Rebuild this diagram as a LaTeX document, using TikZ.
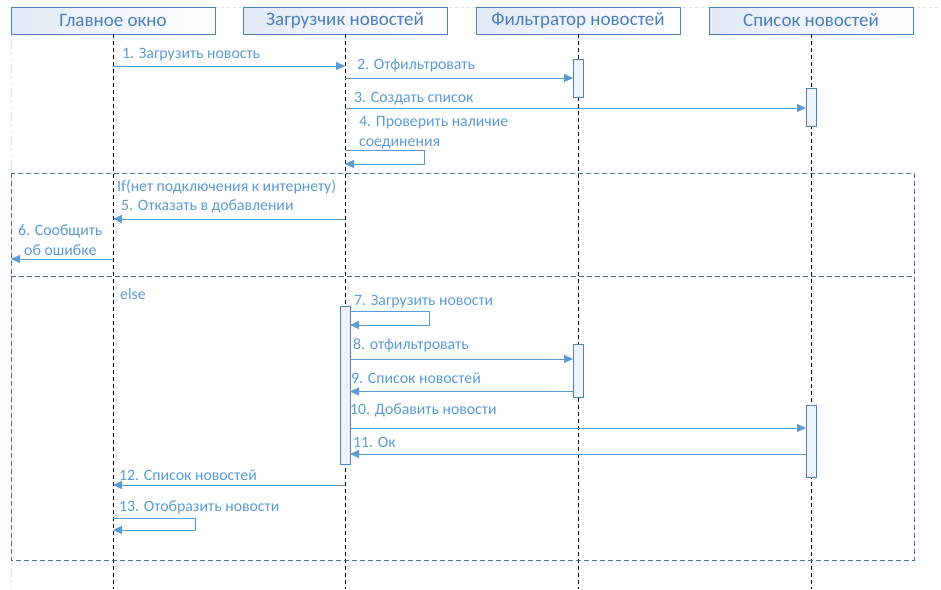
\documentclass[tikz,border=0pt]{standalone}
\usepackage{fontspec}
\setmainfont{Carlito}
\usetikzlibrary{arrows.meta}

\definecolor{msgblue}{RGB}{91,155,213}
\definecolor{headtext}{RGB}{74,126,187}
\definecolor{boxline}{RGB}{79,129,189}
\definecolor{boxfill}{RGB}{226,234,246}
\definecolor{framecol}{RGB}{65,113,156}

\tikzset{
    head/.style={draw=boxline, left color=boxfill, right color=white, minimum width=204pt,
        minimum height=27pt, inner sep=0pt, text=headtext, font=\fontsize{19}{21}\selectfont},
    life/.style={black, line width=0.8pt, dash pattern=on 4pt off 3pt},
    act/.style={draw=boxline, line width=0.8pt, fill=boxfill!60, minimum width=10pt, inner sep=0pt},
    msg/.style={draw=msgblue, line width=1pt},
    lbl/.style={anchor=west, text=msgblue, inner sep=0pt, yshift=-1.5pt,
        font=\fontsize{15.8}{20}\selectfont},
    fragment/.style={draw=framecol, line width=0.8pt, dash pattern=on 5pt off 3pt}
}

\begin{document}
\begin{tikzpicture}[x=1pt, y=-1pt, >={Triangle[length=9pt,width=8pt]}]
    \useasboundingbox (0,0) rectangle (941,589);
    \draw[black!12, dashed] (11,589) -- (11,7) -- (941,7);

    % objects and lifelines
    \foreach \n/\x/\t in {main/113/Главное окно, loader/345/Загрузчик новостей,
                          filter/578/Фильтратор новостей, list/811/Список новостей} {
        \node[head] (\n) at (\x,20.5) {\t};
        \coordinate (\n end) at (\x,589);
        \draw[life] (\n.south) -- (\n end);
    }

    % activations
    \node[act, minimum height=38pt] (filterA) at (578,78) {};
    \node[act, minimum height=38pt] (listA) at (811,107) {};
    \node[act, minimum height=158pt] (loaderB) at (345,385) {};
    \node[act, minimum height=53pt] (filterB) at (578,370.5) {};
    \node[act, minimum height=72pt] (listB) at (811,441) {};

    % alt fragment
    \draw[fragment] (11,173) rectangle (914,560);
    \draw[fragment] (11,276.5) -- (914,276.5);

    % straight messages
    \foreach \i/\a/\b/\y in {1/113/345/66, 2/345/573/78, 3/345/806/108, 5/345/113/219,
                             6/113/11/259, 8/350/573/359, 9/573/350/391.5,
                             10/350/806/428, 11/806/350/454, 12/345/113/485} {
        \coordinate (s\i) at (\a,\y);
        \coordinate (e\i) at (\b,\y);
        \draw[msg, ->] (s\i) -- (e\i);
    }

    % self messages
    \foreach \i/\a/\w/\y/\h in {4/345/79/150/14, 7/350/79/311.5/13.5, 13/113/82/518/12} {
        \coordinate (s\i) at (\a,\y);
        \coordinate (e\i) at (\a,\y+\h);
        \draw[msg, ->] (s\i) -- ++(\w,0) |- (e\i);
    }

    % labels
    \node[lbl] (l1) at (122,53) {1. Загрузить новость};
    \node[lbl] (l2) at (357,64) {2. Отфильтровать};
    \node[lbl] (l3) at (354,97.5) {3. Создать список};
    \node[lbl, align=left] (l4) at (359,131) {4. Проверить наличие\\соединения};
    \node[lbl] (cond) at (117,186) {If(нет подключения к интернету)};
    \node[lbl] (l5) at (121,205) {5. Отказать в добавлении};
    \node[lbl, align=center] (l6) at (18,239) {6. Сообщить\\об ошибке};
    \node[lbl] (els) at (120,293) {else};
    \node[lbl] (l7) at (354,300.5) {7. Загрузить новости};
    \node[lbl] (l8) at (353,344) {8. отфильтровать};
    \node[lbl] (l9) at (351,377) {9. Список новостей};
    \node[lbl] (l10) at (350,409) {10. Добавить новости};
    \node[lbl] (l11) at (353,441) {11. Ок};
    \node[lbl] (l12) at (119,474) {12. Список новостей};
    \node[lbl] (l13) at (119,506) {13. Отобразить новости};
\end{tikzpicture}
\end{document}
